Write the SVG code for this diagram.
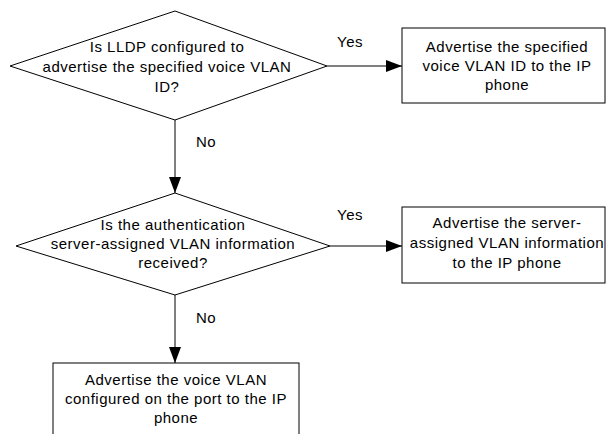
<svg xmlns="http://www.w3.org/2000/svg" width="607" height="434" viewBox="0 0 607 434">
<defs>
<style>
.s{fill:#fff;stroke:#000;stroke-width:1}
.t{font-family:"Liberation Sans",Arial,sans-serif;font-size:15px;letter-spacing:0.5px;fill:#000;text-anchor:middle}
.l{font-family:"Liberation Sans",Arial,sans-serif;font-size:15px;letter-spacing:0.5px;fill:#000}
.c{stroke:#000;stroke-width:1;fill:none}
</style>
<marker id="a" viewBox="0 0 16 12" refX="16" refY="6" markerWidth="16" markerHeight="12" markerUnits="userSpaceOnUse" orient="auto">
<path d="M0,0 L16,6 L0,12 Z" fill="#000"/>
</marker>
</defs>
<rect width="607" height="434" fill="#fff"/>
<g id="connectors">
<line class="c" x1="327" y1="66" x2="402" y2="66" marker-end="url(#a)"/>
<line class="c" x1="175" y1="120" x2="175" y2="193" marker-end="url(#a)"/>
<line class="c" x1="330" y1="246" x2="402" y2="246" marker-end="url(#a)"/>
<line class="c" x1="175" y1="295" x2="175" y2="363" marker-end="url(#a)"/>
<text class="l" x="337" y="47">Yes</text>
<text class="l" x="196" y="147">No</text>
<text class="l" x="337" y="220">Yes</text>
<text class="l" x="196" y="323">No</text>
</g>
<g id="d1">
<polygon class="s" points="175,11 327,66 175,120 10,66"/>
<text class="t" x="167" y="52">Is LLDP configured to</text>
<text class="t" x="167" y="72">advertise the specified voice VLAN</text>
<text class="t" x="167" y="92">ID?</text>
</g>
<g id="b1">
<rect class="s" x="402" y="28" width="203" height="75"/>
<text class="t" x="507" y="52">Advertise the specified</text>
<text class="t" x="507" y="71">voice VLAN ID to the IP</text>
<text class="t" x="507" y="90">phone</text>
</g>
<g id="d2">
<polygon class="s" points="175,193 330,246 175,295 16,246"/>
<text class="t" x="173" y="230">Is the authentication</text>
<text class="t" x="173" y="249">server-assigned VLAN information</text>
<text class="t" x="173" y="268">received?</text>
</g>
<g id="b2">
<rect class="s" x="402" y="207" width="203" height="76"/>
<text class="t" x="507" y="228">Advertise the server-</text>
<text class="t" x="507" y="248">assigned VLAN information</text>
<text class="t" x="507" y="268">to the IP phone</text>
</g>
<g id="b3">
<rect class="s" x="53" y="363" width="246" height="80"/>
<text class="t" x="176" y="385">Advertise the voice VLAN</text>
<text class="t" x="176" y="404">configured on the port to the IP</text>
<text class="t" x="176" y="423">phone</text>
</g>
</svg>
